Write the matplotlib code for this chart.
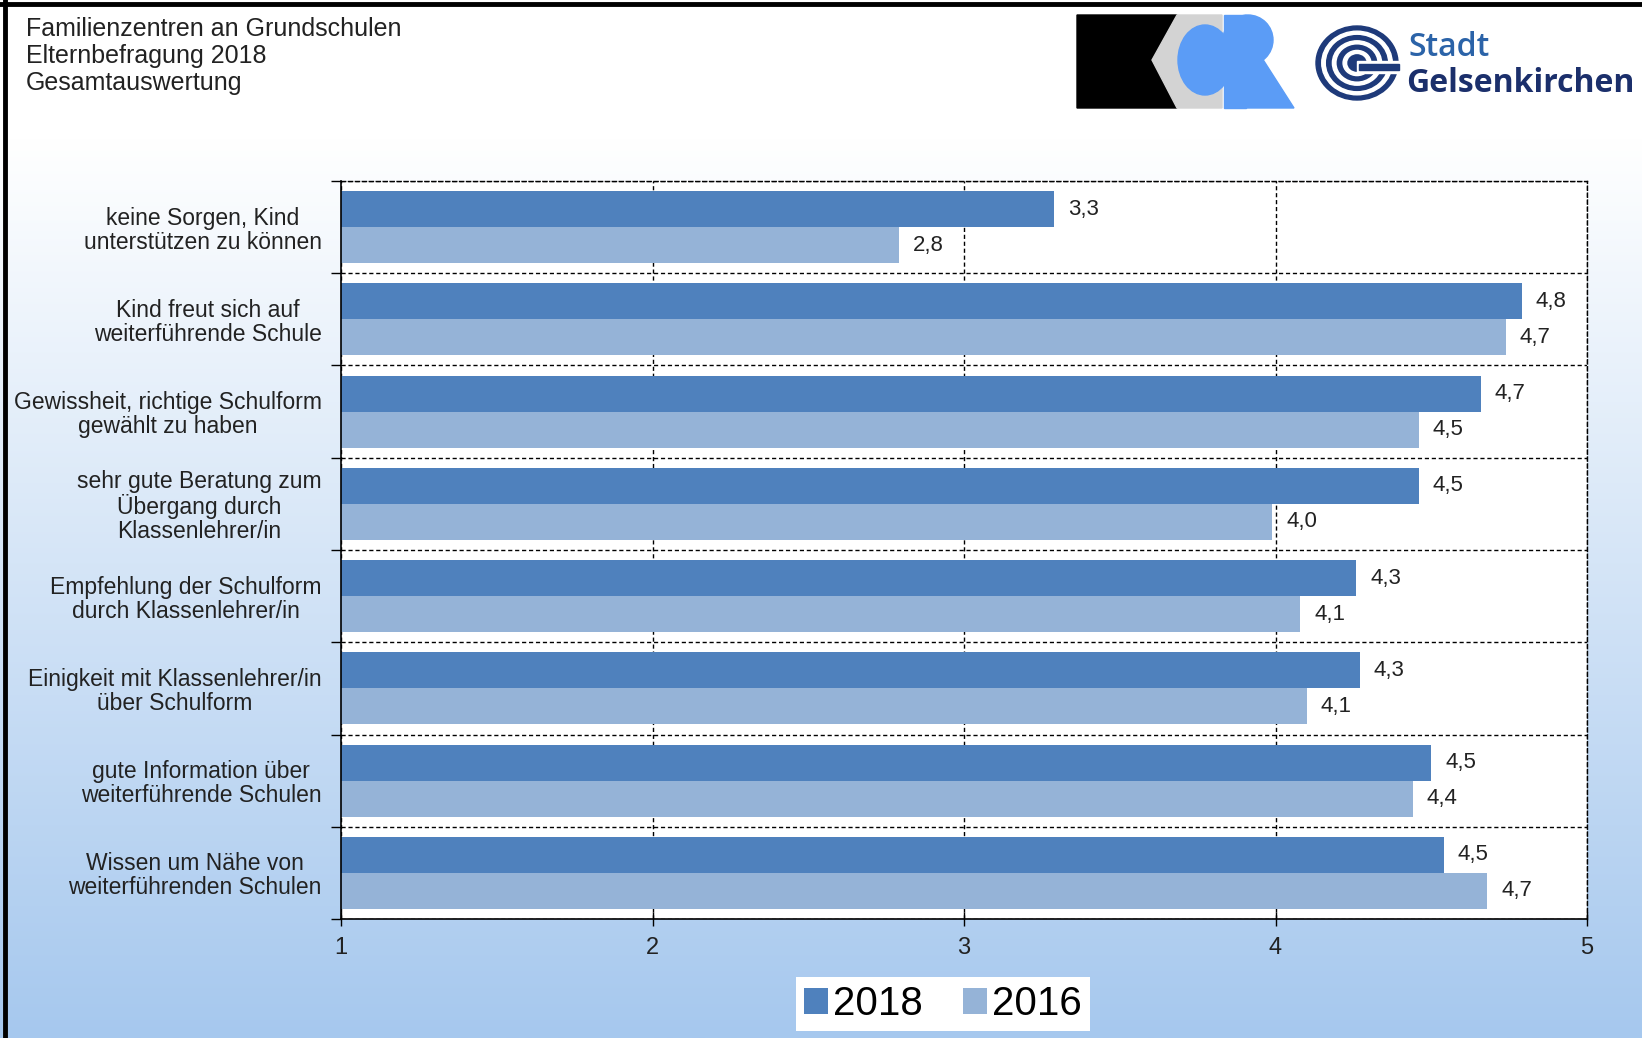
import matplotlib.pyplot as plt
import numpy as np
from matplotlib.patches import Rectangle, Polygon, Ellipse

plt.rcParams['font.family'] = ['Liberation Sans', 'DejaVu Sans']

kategorien = [
    'keine Sorgen, Kind\nunterstützen zu können',
    'Kind freut sich auf\nweiterführende Schule',
    'Gewissheit, richtige Schulform\ngewählt zu haben',
    'sehr gute Beratung zum\nÜbergang durch\nKlassenlehrer/in',
    'Empfehlung der Schulform\ndurch Klassenlehrer/in',
    'Einigkeit mit Klassenlehrer/in\nüber Schulform',
    'gute Information über\nweiterführende Schulen',
    'Wissen um Nähe von\nweiterführenden Schulen',
]
werte_2018 = [3.29, 4.79, 4.66, 4.46, 4.26, 4.27, 4.50, 4.54]
werte_2016 = [2.79, 4.74, 4.46, 3.99, 4.08, 4.10, 4.44, 4.68]
x_ticks = [1, 2, 3, 4, 5]

farbe_2018 = '#4f81bd'
farbe_2016 = '#95b3d7'

W, H = 1642, 1038
fig = plt.figure(figsize=(W / 100, H / 100), dpi=100)

# Hintergrund mit Verlauf, Rahmen, Titel und Logos (Pixelkoordinaten)
bg = fig.add_axes([0, 0, 1, 1], zorder=0)
bg.set_xlim(0, W)
bg.set_ylim(H, 0)
bg.axis('off')
t = np.clip((np.linspace(0, H, 400) - 140) / (H - 140), 0, 1)
unten = np.array([166, 200, 238]) / 255
grad = (1 - t[:, None]) * np.ones(3) + t[:, None] * unten
bg.imshow(grad[:, None, :], extent=[0, W, H, 0], aspect='auto', zorder=0)
bg.plot([5, 5], [0, H], color='black', lw=3.5, zorder=2)
bg.plot([0, W], [4, 4], color='black', lw=3.5, zorder=2)

bg.text(26, 17, 'Familienzentren an Grundschulen\nElternbefragung 2018\nGesamtauswertung',
        fontsize=18, va='top', ha='left', color='#222222', linespacing=1.15)

# KCR-Logo
bg.add_patch(Polygon([(1077, 15), (1177, 15), (1152, 60), (1177, 108), (1077, 108)],
                     color='black', zorder=3))
bg.add_patch(Polygon([(1177, 15), (1222, 15), (1222, 108), (1177, 108), (1152, 60)],
                     color='#d3d3d3', zorder=3))
bg.add_patch(Ellipse((1205, 60), 54, 70, color='#5b9cf6', zorder=4))
bg.add_patch(Rectangle((1224, 15), 22, 93, color='#5b9cf6', zorder=4))
bg.add_patch(Ellipse((1248, 40), 50, 50, color='#5b9cf6', zorder=4))
bg.add_patch(Polygon([(1236, 58), (1262, 58), (1294, 108), (1246, 108)],
                     color='#5b9cf6', zorder=4))

# Gelsenkirchen-Logo
cx, cy = 1357, 63
for i, r in enumerate([1.0, 0.86, 0.74, 0.60, 0.48, 0.34, 0.22]):
    col = '#1e3a7a' if i % 2 == 0 else 'white'
    bg.add_patch(Ellipse((cx, cy), 82 * r, 74 * r, color=col, zorder=3 + i * 0.01))
bg.add_patch(Rectangle((cx, cy - 2), 44, 12, color='white', zorder=3.2))
bg.add_patch(Rectangle((cx + 2, cy + 1), 40, 6, color='#1e3a7a', zorder=3.3))
bg.text(1408, 47, 'Stadt', fontsize=23, color='#2b63a8', va='center', ha='left',
        family=['Open Sans', 'DejaVu Sans'], fontweight='semibold')
bg.text(1406, 83, 'Gelsenkirchen', fontsize=23, color='#1b2f6b', va='center', ha='left',
        family=['Open Sans', 'DejaVu Sans'], fontweight='bold')

# Diagramm
ax = fig.add_axes([341 / W, 1 - 919 / H, (1587 - 341) / W, (919 - 181) / H], zorder=1)
ax.set_facecolor('white')
y = np.arange(len(kategorien))
h = 0.39
ax.barh(y - 0.195, np.array(werte_2018) - 1, left=1, height=h, color=farbe_2018, label='2018')
ax.barh(y + 0.195, np.array(werte_2016) - 1, left=1, height=h, color=farbe_2016, label='2016')

for yi, v in zip(y, werte_2018):
    ax.annotate(f'{v:.1f}'.replace('.', ','), (v, yi - 0.195), xytext=(10, 0),
                textcoords='offset points', va='center', ha='left', fontsize=16, color='#222222')
for yi, v in zip(y, werte_2016):
    ax.annotate(f'{v:.1f}'.replace('.', ','), (v, yi + 0.195), xytext=(10, 0),
                textcoords='offset points', va='center', ha='left', fontsize=16, color='#222222')

ax.set_xlim(1, 5)
ax.set_ylim(len(kategorien) - 0.5, -0.5)
ax.set_xticks(x_ticks)
ax.set_xticklabels([str(v) for v in x_ticks])
ax.set_yticks(y)
ax.set_yticklabels(kategorien, multialignment='center', fontsize=16.5, color='#222222',
                   linespacing=1.05)
ax.set_yticks(np.arange(-0.5, len(kategorien)), minor=True)
ax.tick_params(axis='y', which='major', length=0, pad=14)
ax.tick_params(axis='y', which='minor', length=7, width=1, direction='out')
ax.tick_params(axis='x', which='major', length=10, width=1, direction='inout',
               labelsize=17, pad=8, labelcolor='#222222')

ax.set_axisbelow(True)
ax.grid(axis='x', which='major', color='black', linestyle=(0, (3, 2)), linewidth=1)
ax.grid(axis='y', which='minor', color='black', linestyle=(0, (3, 2)), linewidth=1)
for s in ['top', 'right']:
    ax.spines[s].set_linestyle((0, (3, 2)))
    ax.spines[s].set_linewidth(1)
for s in ['left', 'bottom']:
    ax.spines[s].set_linewidth(1.2)

leg = fig.legend(loc='center', bbox_to_anchor=(943 / W, 1 - 1004 / H), ncol=2,
                 fontsize=29, frameon=True, fancybox=False, framealpha=1,
                 handlelength=0.6, handleheight=0.6, handletextpad=0.12,
                 columnspacing=1.0, borderpad=0.2, borderaxespad=0)
leg.get_frame().set_facecolor('white')
leg.get_frame().set_linewidth(0)

fig.savefig('out.png', dpi=100)
plt.close(fig)
